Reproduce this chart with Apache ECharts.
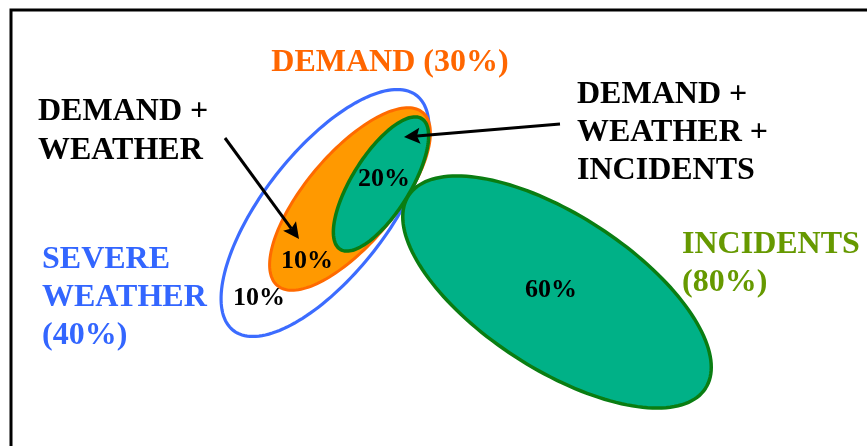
<!DOCTYPE html>
<html>
<head>
<meta charset="utf-8">
<script src="https://cdn.jsdelivr.net/npm/echarts@6/dist/echarts.min.js"></script>
<style>
  html, body { margin: 0; padding: 0; background: #ffffff; }
  #chart { width: 867px; height: 446px; }
</style>
</head>
<body>
<div id="chart"></div>
<script>
// Share of delays attributed to each cause (percent)
const causeNames = ['SEVERE WEATHER', 'DEMAND', 'INCIDENTS'];
const causeShares = [40, 30, 80];

// Share of each region of the diagram (percent)
const regionNames = ['Weather only', 'Demand + Weather', 'Demand + Weather + Incidents', 'Incidents only'];
const regionShares = [10, 10, 20, 60];

// Callout captions pointing into overlaps
const calloutTexts = ['DEMAND +\nWEATHER', 'DEMAND +\nWEATHER +\nINCIDENTS'];

// ---- layout (diagram units, same scale as the canvas) ----
// ellipse: centre x, centre y, semi-axis along tilt, semi-axis across, tilt in degrees (clockwise)
const setShapes = [
  [325, 213, 149, 62, -52],   // severe weather
  [350, 199, 113, 45, -50],   // demand
  [381, 184, 77, 29, -58],    // demand + weather + incidents
  [557, 292, 177, 77, 33]     // incidents
];
const setFills = ['#ffffff', '#ff9900', '#00b187', '#00b187'];
const setStrokes = ['#3c6cff', '#ff6a00', '#0a7d12', '#0a7d12'];
const setStrokeWidths = [3.2, 3, 3.5, 3.5];

// region label anchors (centre of text)
const regionAnchors = [[259, 298], [307, 261], [384, 179], [551, 290]];

// caption anchors: x, top, alignment, line height
const causeAnchors = [[42, 241, 'left', 38], [390, 44, 'center', 38], [682, 226, 'left', 38]];
const causeSeparators = ['\n', ' ', '\n'];
const causeColors = ['#3366ff', '#ff6600', '#669900'];
const causeBreaks = [['SEVERE', 'WEATHER'], ['DEMAND'], ['INCIDENTS']];

const calloutAnchors = [[38, 92, 39], [577, 76, 38]];

// arrows: start and tip
const arrowPaths = [
  [[225, 138], [299, 239]],
  [[560, 124], [404, 137]]
];

const FONT_FAMILY = '"Liberation Serif", "Times New Roman", serif';

function ellipsePolygon(api, cx, cy, a, b, deg) {
  const r = deg * Math.PI / 180, c = Math.cos(r), s = Math.sin(r);
  const pts = [];
  const n = 160;
  for (let k = 0; k < n; k++) {
    const t = k / n * Math.PI * 2;
    const ex = a * Math.cos(t), ey = b * Math.sin(t);
    pts.push(api.coord([cx + ex * c - ey * s, cy + ex * s + ey * c]));
  }
  return pts;
}

const causeCaptions = causeNames.map((name, i) =>
  causeBreaks[i].join('\n') + causeSeparators[i] + '(' + causeShares[i] + '%)'
);

const chart = echarts.init(document.getElementById('chart'), null, { renderer: 'canvas' });

chart.setOption({
  animation: false,
  backgroundColor: '#ffffff',
  grid: { left: 0, right: 0, top: 0, bottom: 0, containLabel: false },
  xAxis: { type: 'value', min: 0, max: 867, show: false },
  yAxis: { type: 'value', min: 0, max: 446, inverse: true, show: false },
  graphic: [{
    type: 'rect',
    z: 100,
    shape: { x: 11, y: 10, width: 900, height: 500 },
    style: { fill: 'none', stroke: '#000000', lineWidth: 3 }
  }],
  series: [
    {
      name: 'sets',
      type: 'custom',
      coordinateSystem: 'cartesian2d',
      data: setShapes,
      renderItem: function (params, api) {
        const i = params.dataIndex;
        return {
          type: 'polygon',
          shape: { points: ellipsePolygon(api, api.value(0), api.value(1), api.value(2), api.value(3), api.value(4)) },
          style: { fill: setFills[i], stroke: setStrokes[i], lineWidth: setStrokeWidths[i] }
        };
      },
      z: 2
    },
    {
      name: 'regions',
      type: 'custom',
      coordinateSystem: 'cartesian2d',
      data: regionShares.map((v, i) => [regionAnchors[i][0], regionAnchors[i][1], v]),
      renderItem: function (params, api) {
        const p = api.coord([api.value(0), api.value(1)]);
        return {
          type: 'text',
          x: p[0], y: p[1],
          style: {
            text: api.value(2) + '%',
            fill: '#000000',
            font: 'bold 26px ' + FONT_FAMILY,
            align: 'center',
            verticalAlign: 'middle'
          }
        };
      },
      z: 5
    },
    {
      name: 'causes',
      type: 'custom',
      coordinateSystem: 'cartesian2d',
      data: causeAnchors.map(a => [a[0], a[1]]),
      renderItem: function (params, api) {
        const i = params.dataIndex;
        const p = api.coord([api.value(0), api.value(1)]);
        return {
          type: 'text',
          x: p[0], y: p[1],
          style: {
            text: causeCaptions[i],
            fill: causeColors[i],
            font: 'bold 32px ' + FONT_FAMILY,
            align: causeAnchors[i][2],
            verticalAlign: 'top',
            lineHeight: causeAnchors[i][3]
          }
        };
      },
      z: 5
    },
    {
      name: 'callouts',
      type: 'custom',
      coordinateSystem: 'cartesian2d',
      data: calloutAnchors.map(a => [a[0], a[1]]),
      renderItem: function (params, api) {
        const i = params.dataIndex;
        const p = api.coord([api.value(0), api.value(1)]);
        return {
          type: 'text',
          x: p[0], y: p[1],
          style: {
            text: calloutTexts[i],
            fill: '#000000',
            font: 'bold 32px ' + FONT_FAMILY,
            align: 'left',
            verticalAlign: 'top',
            lineHeight: calloutAnchors[i][2]
          }
        };
      },
      z: 5
    },
    {
      name: 'arrows',
      type: 'custom',
      coordinateSystem: 'cartesian2d',
      data: arrowPaths.map(a => [a[0][0], a[0][1], a[1][0], a[1][1]]),
      renderItem: function (params, api) {
        const s = api.coord([api.value(0), api.value(1)]);
        const t = api.coord([api.value(2), api.value(3)]);
        const dx = t[0] - s[0], dy = t[1] - s[1];
        const len = Math.sqrt(dx * dx + dy * dy);
        const ux = dx / len, uy = dy / len;
        const headLen = 16, headHalf = 8, notch = 3;
        const bx = t[0] - ux * headLen, by = t[1] - uy * headLen;
        const nx = t[0] - ux * (headLen - notch), ny = t[1] - uy * (headLen - notch);
        return {
          type: 'group',
          children: [
            {
              type: 'line',
              shape: { x1: s[0], y1: s[1], x2: nx, y2: ny },
              style: { stroke: '#000000', lineWidth: 3 }
            },
            {
              type: 'polygon',
              shape: { points: [t, [bx - uy * headHalf, by + ux * headHalf], [nx, ny], [bx + uy * headHalf, by - ux * headHalf]] },
              style: { fill: '#000000' }
            }
          ]
        };
      },
      z: 6
    }
  ]
});
</script>
</body>
</html>
